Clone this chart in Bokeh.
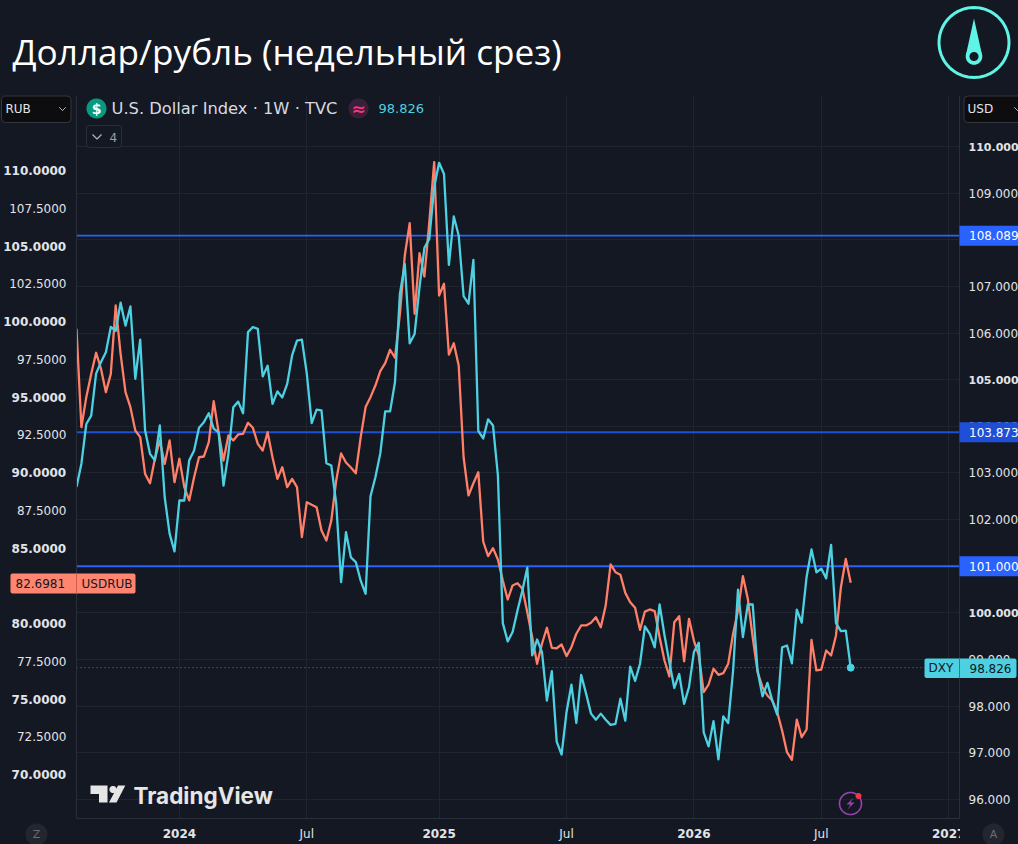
import math
import pandas as pd
from bokeh.plotting import figure
from bokeh.embed import file_html
from bokeh.resources import INLINE
from bokeh.models import (BoxAnnotation, FixedTicker, Grid, Label, LinearAxis,
                          PolyAnnotation, Range1d, Span)

usdrub = [99.51, 93.0, 94.99, 96.53, 97.93, 96.87, 95.32, 96.53, 101.06, 97.86,
          95.32, 94.33, 92.78, 92.34, 89.91, 89.29, 90.91, 92.12, 90.57, 92.12,
          89.36, 90.91, 89.03, 88.15, 89.69, 91.01, 91.06, 92.01, 94.72, 92.67,
          90.79, 92.45, 92.12, 92.52, 92.56, 93.29, 92.96, 91.9, 91.46, 92.67,
          91.01, 89.58, 90.35, 89.03, 89.58, 89.03, 85.72, 88.03, 87.86, 87.7,
          86.16, 85.5, 86.82, 89.47, 91.26, 90.66, 90.33, 89.95, 92.34, 94.33,
          94.99, 95.76, 96.71, 97.24, 98.13, 97.6, 100.5, 104.37, 106.51, 100.51,
          104.52, 102.98, 106.58, 110.55, 101.72, 102.5, 97.81, 98.56, 97.09, 91.01,
          88.48, 89.29, 90.02, 85.43, 84.46, 84.99, 84.24, 82.85, 81.59, 82.52,
          82.67, 82.3, 80.75, 79.09, 77.33, 78.66, 79.72, 78.39, 78.36, 78.61,
          77.84, 78.43, 79.32, 79.87, 79.87, 80.05, 80.42, 79.75, 81.19, 83.91,
          83.4, 83.23, 82.03, 81.41, 81.04, 79.58, 80.79, 80.93, 80.82, 79.09,
          77.55, 76.49, 80.09, 80.48, 77.5, 80.31, 78.87, 77.88, 75.45, 75.96,
          77.0, 76.6, 76.71, 77.33, 79.32, 80.86, 83.13, 81.64, 79.09, 76.78,
          75.78, 75.23, 74.9, 74.13, 72.91, 71.48, 70.97, 73.64, 72.47, 72.98,
          78.92, 76.89, 76.95, 78.21, 77.88, 79.21, 82.4, 84.28, 82.6981]

dxy = [102.70, 103.20, 104.05, 104.23, 105.13, 105.38, 105.59, 106.13, 106.05, 106.65,
       106.16, 106.57, 105.02, 105.86, 103.91, 103.41, 103.27, 104.02, 102.48, 101.70,
       101.32, 102.41, 102.41, 103.27, 103.48, 103.97, 104.09, 104.28, 103.95, 103.87,
       102.73, 103.41, 104.41, 104.53, 104.28, 106.02, 106.13, 106.09, 105.07, 105.30,
       104.48, 104.75, 104.62, 104.91, 105.52, 105.84, 105.86, 105.13, 104.07, 104.36,
       104.34, 103.21, 103.16, 102.35, 100.66, 101.73, 101.19, 101.09, 100.69, 100.41,
       102.50, 102.91, 103.42, 104.32, 104.32, 104.95, 106.84, 107.48, 105.78, 105.98,
       106.98, 107.83, 108.02, 109.13, 109.65, 109.41, 107.46, 108.50, 108.09, 106.79,
       106.63, 107.57, 103.90, 103.74, 104.15, 104.02, 102.95, 99.78, 99.39, 99.59,
       100.05, 100.48, 100.97, 99.09, 99.43, 99.16, 98.12, 98.75, 97.24, 96.96,
       97.87, 98.46, 97.64, 98.67, 98.27, 97.84, 97.71, 97.84, 97.71, 97.60,
       97.62, 98.16, 97.69, 98.85, 98.54, 98.91, 99.71, 99.55, 99.26, 100.18,
       99.52, 98.94, 98.39, 98.69, 98.05, 98.41, 99.16, 99.36, 97.44, 97.14,
       97.68, 96.86, 97.78, 97.64, 98.76, 100.50, 99.48, 100.18, 100.18, 98.76,
       98.21, 98.50, 98.12, 97.82, 99.26, 99.30, 98.92, 100.07, 99.79, 100.77,
       101.36, 100.87, 100.95, 100.74, 101.46, 99.78, 99.61, 99.62, 98.826]

first_week = "2023-08-07"
left_ticks = [70, 72.5, 75, 77.5, 80, 85, 87.5, 90, 92.5, 95, 97.5, 100, 102.5, 105, 107.5, 110]
left_bold = [70, 75, 80, 85, 90, 95, 100, 105, 110]
right_ticks = [96, 97, 98, 99, 100, 101, 102, 103, 104, 105, 106, 107, 108, 109, 110]
right_bold = [100, 105, 110]
year_ticks = ["2024-01-01", "2025-01-06", "2026-01-05", "2027-01-04"]
year_labels = ["2024", "2025", "2026", "2027"]
jul_ticks = ["2024-07-01", "2025-07-07", "2026-07-06"]
levels = [108.089, 103.873, 101.0]
level_text = ["108.089", "103.873", "101.000"]
level_colors = ["#2962ff", "#1e4fd6", "#2962ff"]

BG = "#141823"
GRID = "#20242f"
BORDER = "#2a2e39"
ORANGE = "#ff7f68"
ORANGE_TAG = "#ff8570"
TEAL = "#4dd0e1"
MINT = "#5ff5e6"
TXT = "#e2e4e8"
FONT = "DejaVu Sans"
W, H = 1018, 844
L, R, T, B = 76, 959, 95, 818  # frame edges in page pixels


def ms(d):
    return pd.Timestamp(d).value / 1e6


def rub_at(py):
    return 110 - (py - 170) / 15.1


def usd_at(py):
    return 110 - (py - 146) / 46.64


def usd_py(v):
    return 146 + (110 - v) * 46.64


week_ms = 7 * 86400000
px_per_week = 4.9
x_start = ms(first_week)


def time_at(px):
    return x_start + (px - L) / px_per_week * week_ms


weeks = pd.date_range(first_week, periods=len(usdrub), freq="7D")

p = figure(width=W, height=H, output_backend="svg", toolbar_location=None,
           x_axis_type="datetime", x_range=Range1d(time_at(L), time_at(R)),
           y_range=Range1d(rub_at(B), rub_at(T)),
           min_border_left=L, min_border_right=W - R, min_border_top=T, min_border_bottom=H - B,
           background_fill_color=BG, border_fill_color=BG, outline_line_color=None)
p.extra_y_ranges = {"usd": Range1d(usd_at(B), usd_at(T))}
p.xgrid.visible = False
p.ygrid.visible = False


def style_axis(ax, standoff):
    ax.major_tick_line_color = None
    ax.minor_tick_line_color = None
    ax.major_tick_out = 0
    ax.major_tick_in = 0
    ax.axis_line_color = BORDER
    ax.major_label_text_color = TXT
    ax.major_label_text_font = FONT
    ax.major_label_text_font_size = "12px"
    ax.major_label_standoff = standoff


ax_l = p.yaxis[0]
style_axis(ax_l, 10)
ax_l.ticker = FixedTicker(ticks=left_ticks)
ax_l.major_label_overrides = {t: ("" if t in left_bold else f"{t:.4f}") for t in left_ticks}

# the right scale's texts are set on the sheet above, so that the scale keeps its exact width
ax_r = LinearAxis(y_range_name="usd", ticker=FixedTicker(ticks=right_ticks))
style_axis(ax_r, 2)
ax_r.major_label_overrides = {t: "" for t in right_ticks}
p.add_layout(ax_r, "right")

ax_b = p.xaxis[0]
style_axis(ax_b, 8)
year_ms = [ms(d) for d in year_ticks]
jul_ms = [ms(d) for d in jul_ticks]
ax_b.ticker = FixedTicker(ticks=sorted(year_ms + jul_ms))
ov = {t: "" for t in year_ms}
ov.update({t: "Jul" for t in jul_ms})
ax_b.major_label_overrides = ov

p.add_layout(Grid(dimension=0, ticker=FixedTicker(ticks=sorted(year_ms + jul_ms)),
                  grid_line_color=GRID, grid_line_width=1))
p.add_layout(Grid(dimension=1, ticker=FixedTicker(ticks=right_ticks), y_range_name="usd",
                  grid_line_color=GRID, grid_line_width=1))

for v, c in zip(levels, level_colors):
    p.add_layout(Span(location=v, dimension="width", y_range_name="usd", line_color=c,
                      line_width=1.8, level="underlay"))
p.add_layout(Span(location=dxy[-1], dimension="width", y_range_name="usd", line_color=TEAL,
                  line_alpha=0.6, line_width=1, line_dash="1 3", level="underlay"))

p.line(weeks, usdrub, line_color=ORANGE, line_width=2.3, line_join="round")
p.line(weeks, dxy, line_color=TEAL, line_width=2.3, line_join="round", y_range_name="usd")
p.scatter(weeks[-1:], dxy[-1:], size=7, fill_color=TEAL, line_color=TEAL, y_range_name="usd")

# transparent sheet over the whole page for tags, buttons, title and logo
q = figure(width=W, height=H, output_backend="svg", toolbar_location=None,
           x_axis_type=None, y_axis_type=None, x_range=Range1d(0, W), y_range=Range1d(H, 0),
           min_border=0, background_fill_color=None, border_fill_color=None,
           outline_line_color=None, styles={"position": "absolute", "left": "0", "top": "0"})
q.extra_y_ranges = {"rub": Range1d(rub_at(H), rub_at(0)), "usd": Range1d(usd_at(H), usd_at(0))}
q.extra_x_ranges = {"time": Range1d(time_at(0), time_at(W))}


def sy(py):
    return H - py


def box(l, r, t, b, fill, line=None, radius=0):
    q.add_layout(BoxAnnotation(left=l, right=r, top=sy(t), bottom=sy(b),
                               left_units="screen", right_units="screen",
                               top_units="screen", bottom_units="screen",
                               fill_color=fill, fill_alpha=1, line_color=line, line_alpha=1,
                               border_radius=radius, level="overlay"))


def poly(pts, fill=None, line=None, lw=1):
    q.add_layout(PolyAnnotation(xs=[a for a, _ in pts], ys=[sy(b) for _, b in pts],
                                xs_units="screen", ys_units="screen",
                                fill_color=fill, fill_alpha=1 if fill else 0,
                                line_color=line, line_alpha=1, line_width=lw, level="overlay"))


def circle(cx, cy, r, fill=None, line=None, lw=1):
    poly([(cx + r * math.cos(2 * math.pi * k / 72), cy + r * math.sin(2 * math.pi * k / 72))
          for k in range(72)], fill, line, lw)


def text(px, py, s, color=TXT, size=12, align="left", bold=False, font=FONT):
    q.add_layout(Label(x=px, y=sy(py), x_units="screen", y_units="screen", text=s,
                       text_color=color, text_font=font, text_font_size=f"{size}px",
                       text_align=align, text_baseline="middle",
                       text_font_style="bold" if bold else "normal", level="overlay"))


# bold left labels, and all the right scale's labels
for t in left_bold:
    q.add_layout(Label(x=65.7, x_units="screen", y=t, y_units="data", y_range_name="rub",
                       text=f"{t:.4f}", text_color=TXT, text_font=FONT, text_font_size="12px",
                       text_font_style="bold", text_align="right", text_baseline="middle",
                       level="overlay"))
for t in right_ticks:
    strong = t in right_bold
    q.add_layout(Label(x=968, x_units="screen", y=t, y_units="data", y_range_name="usd",
                       text=f"{t:.3f}", text_color=TXT, text_font=FONT,
                       text_font_size="11px" if strong else "12px",
                       text_font_style="bold" if strong else "normal",
                       text_align="left", text_baseline="middle", level="overlay"))
for t, s in zip(year_ms, year_labels):
    q.add_layout(Label(x=t, x_units="data", x_range_name="time", y=sy(833), y_units="screen",
                       text=s, text_color=TXT, text_font=FONT, text_font_size="12px",
                       text_font_style="bold", text_align="center", text_baseline="middle",
                       level="overlay"))

# corner covers
box(959.5, 1018, 819, 844, BG)
circle(36, 834, 11, "#23262f")
text(36, 834, "Z", "#6a6d78", 11, "center")
circle(993, 834, 11, "#23262f")
text(993, 834, "A", "#6a6d78", 11, "center")

# title and logo
text(12, 50.5, "Доллар/рубль (недельный срез)", "#ffffff", 35.2, font="Open Sans")
circle(973.5, 42, 35, None, MINT, 3)
poly([(973.5, 18), (981.7, 55), (965.3, 55)], MINT)
circle(973.5, 56, 8.3, MINT)
circle(973.5, 56, 4.5, BG)

# header
circle(96, 108, 10, "#089981")
text(96, 108, "$", "#ffffff", 14, "center", bold=True)
text(111, 108, "U.S. Dollar Index · 1W · TVC", "#d8dae0", 16.3)
circle(358, 108, 10, "#3a1f38")
text(358, 108, "≈", "#f2367f", 17, "center", bold=True)
text(378, 108, "98.826", TEAL, 13)
box(86, 121, 125, 147, BG, BORDER, 3)
poly([(92, 134), (96.5, 138.5), (101, 134), (96.5, 138.5)], None, "#b2b5be", 1.2)
text(109, 136.5, "4", "#9a9da6", 12)

# selectors
box(1, 70.5, 95.5, 122, "#0d0d10", "#34363c", 4)
text(5, 108, "RUB", TXT, 12)
poly([(59, 107), (62, 110), (65, 107), (62, 110)], None, "#b2b5be", 1)
box(963.5, 1030, 95.5, 122, "#0d0d10", "#34363c", 4)
text(967, 108, "USD", TXT, 12)
poly([(1014, 107), (1017, 110), (1020, 107), (1017, 110)], None, "#b2b5be", 1)

# level tags
for v, s, c in zip(levels, level_text, level_colors):
    py = usd_py(v)
    box(959, 1018, py - 10, py + 10, c)
    text(968.5, py, s, "#ffffff", 12)

# price tags
box(924, 1016, 658, 677.5, TEAL, None, 2)
box(958.5, 959.5, 658, 677.5, "#178a99")
text(928, 667.7, "DXY", "#131722", 12)
text(969, 667.7, "98.826", "#131722", 12)
box(10, 135, 573, 593, ORANGE_TAG, None, 2)
box(75.5, 76.5, 573, 593, "#c9604e")
text(15, 583, "82.6981", "#131722", 12)
text(81, 583, "USDRUB", "#131722", 12)

# TradingView mark
poly([(90, 785), (107, 785), (107, 802), (98.5, 802), (98.5, 793.5), (90, 793.5)], "#e6e6e6")
circle(112.5, 789, 3.6, "#e6e6e6")
poly([(117.5, 785), (124.8, 785), (116, 802), (108.5, 802)], "#e6e6e6")
text(133, 795, "TradingView", "#e6e6e6", 22.5, font="Inter", bold=True)

# lightning badge
circle(850, 803, 11, None, "#9c3fb0", 1.6)
poly([(853, 797), (846, 804), (850, 804), (847, 809), (854, 802), (850, 802)], "#9c3fb0")
circle(858, 795.5, 3, "#f23645")

html = file_html([p, q], INLINE)
html = html.replace("</head>",
                    f"<style>html,body{{margin:0;padding:0;background:{BG};overflow:hidden}}</style></head>", 1)
open("out.html", "w").write(html)
